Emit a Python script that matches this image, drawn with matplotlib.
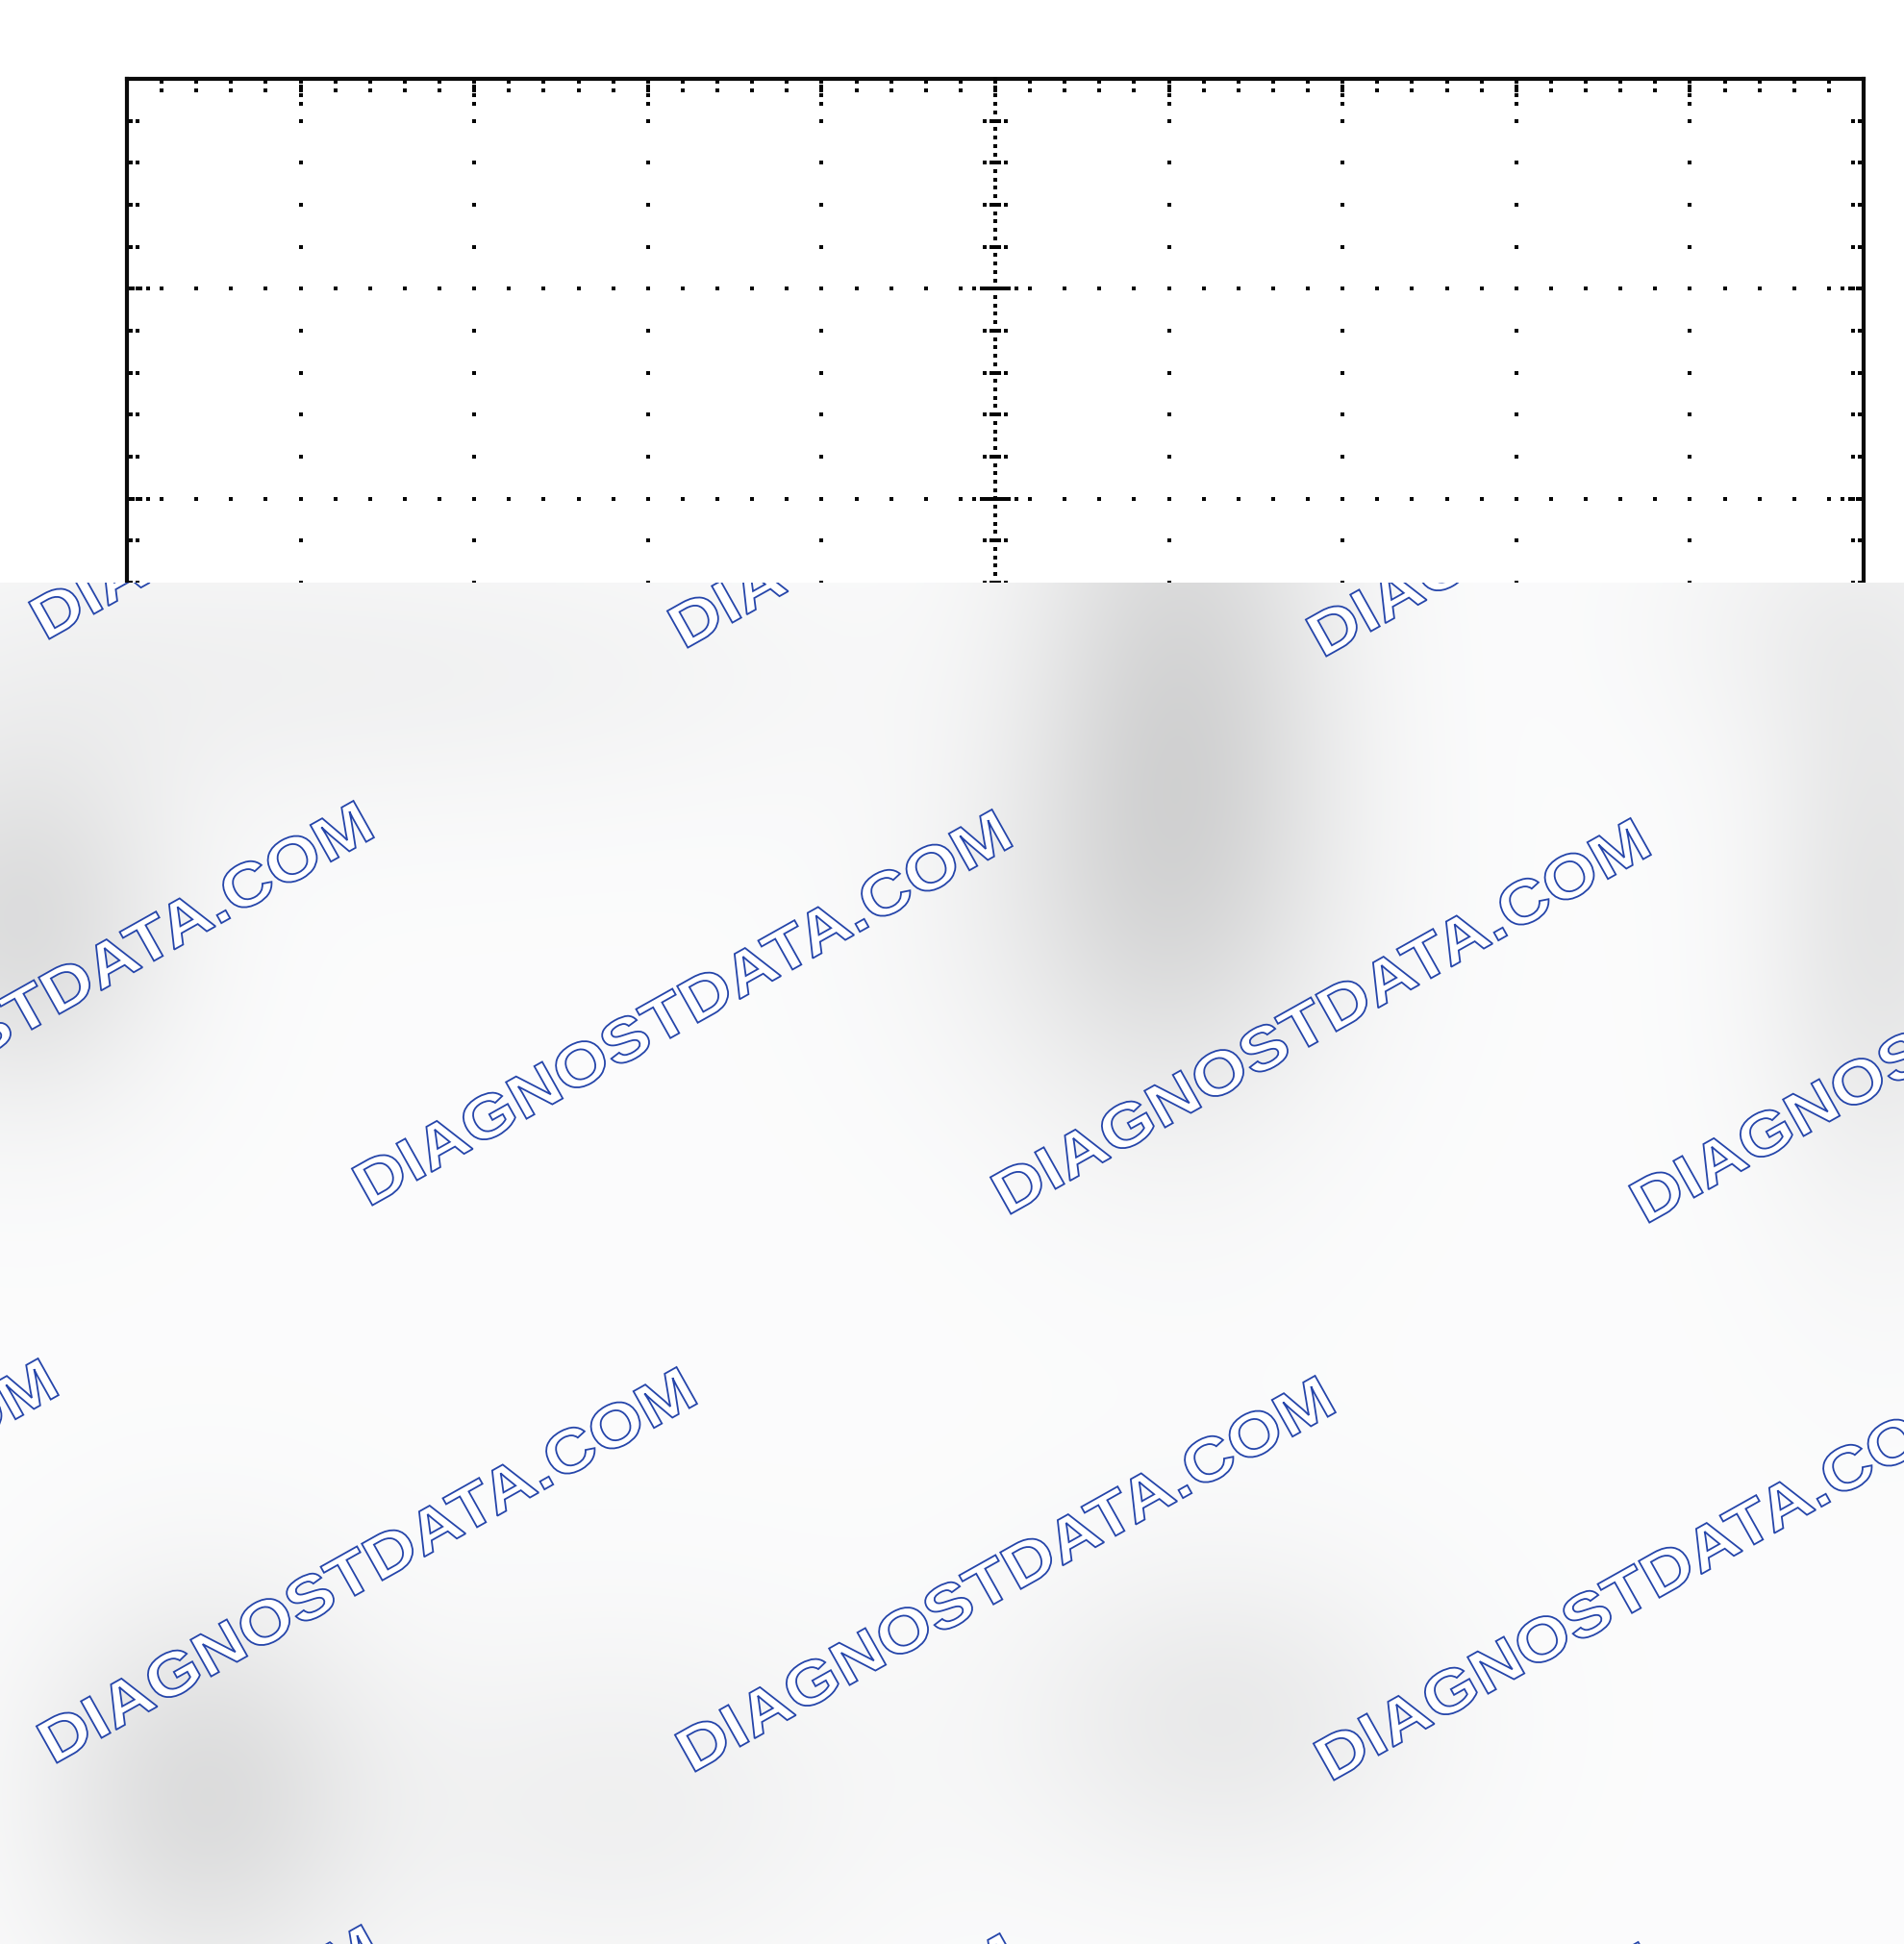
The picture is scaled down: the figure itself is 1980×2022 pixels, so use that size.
import numpy as np
import matplotlib
matplotlib.use("Agg")
import matplotlib.pyplot as plt
from matplotlib.textpath import TextPath
from matplotlib.font_manager import FontProperties
from matplotlib.patches import PathPatch
from matplotlib.transforms import Affine2D

# graticule layout (divisions)
n_xdiv = 10
n_ydiv = 8
n_minor = 5
center_step = 0.04      # dense dots on the centre axes

# watermark
wm_text = "DIAGNOSTDATA.COM"
wm_angle = 29.3
wm_em_x, wm_em_y = 73.5, 63.5   # px per em, text is a bit stretched
wm_origin = (383, 1256)     # pen start of one copy, pixel coords
wm_step_i = (664, 9)        # next copy along a row
wm_step_j = (-328, 580)     # next row

# grey blobs behind the watermark: (x, y, sx, sy, depth), pixels
blob_x = [1230, 1170, 20, 150, 1960, 1900, 210, 1270, 640, 600]
blob_y = [740, 960, 960, 700, 950, 650, 1870, 1790, 1880, 700]
blob_sx = [115, 150, 110, 260, 90, 130, 120, 150, 190, 240]
blob_sy = [240, 140, 130, 110, 210, 100, 140, 120, 130, 100]
blob_d = [0.15, 0.05, 0.12, 0.035, 0.09, 0.035, 0.12, 0.07, 0.045, 0.025]

W, H = 1980, 2022
fig = plt.figure(figsize=(W / 100, H / 100), dpi=100)
fig.patch.set_facecolor("white")

# --- graticule box
left, right, top, bottom = 132, 1938, 82, 1828
ax = fig.add_axes([left / W, 1 - bottom / H, (right - left) / W, (bottom - top) / H])
ax.set_xlim(0, n_xdiv)
ax.set_ylim(-n_ydiv / 2, n_ydiv / 2)
ax.set_xticks([])
ax.set_yticks([])
for s in ax.spines.values():
    s.set_linewidth(3.0)
    s.set_color("#0a0a0a")

xc = n_xdiv / 2
yt = n_ydiv / 2
minor_x = np.arange(0, n_xdiv * n_minor + 1) / n_minor
minor_y = np.arange(0, n_ydiv * n_minor + 1) / n_minor - yt
px_x = n_xdiv / (right - left)      # divisions per pixel
px_y = n_ydiv / (bottom - top)

pts = []
# vertical major lines
for x in range(1, n_xdiv):
    if x == xc:
        continue
    for y in minor_y[1:-1]:
        pts.append((x, y))
    for off in (8, 17, 26):
        pts.append((x, yt - off * px_y))
        pts.append((x, -yt + off * px_y))
# horizontal major lines
for y in range(-int(yt) + 1, int(yt)):
    if y == 0:
        continue
    for x in minor_x[1:-1]:
        pts.append((x, y))
    for off in (6, 14, 22):
        pts.append((off * px_x, y))
        pts.append((n_xdiv - off * px_x, y))
    for x in np.arange(-3, 4) * center_step:
        pts.append((xc + x, y))
# edge ticks
for x in minor_x[1:-1]:
    for off in (3, 12):
        pts.append((x, yt - off * px_y))
        pts.append((x, -yt + off * px_y))
for y in minor_y[1:-1]:
    for off in (4, 11):
        pts.append((off * px_x, y))
        pts.append((n_xdiv - off * px_x, y))
# centre vertical axis
for y in np.arange(-yt, yt + 1e-9, center_step):
    pts.append((xc, y))
for y in minor_y[1:-1]:
    for off in (-11, -4, 4, 11):
        pts.append((xc + off * px_x, y))
# centre horizontal axis
for x in np.arange(0, n_xdiv + 1e-9, center_step * 180 / 218):
    pts.append((x, 0))
for x in minor_x[1:-1]:
    for off in (-11, -4, 4, 11):
        pts.append((x, off * px_y))

pts = np.array(pts)
ax.scatter(pts[:, 0], pts[:, 1], s=6.5, marker="s", color="#050505",
           linewidths=0, clip_on=False, zorder=3)

# --- watermark overlay
ov_top = 606
ov = fig.add_axes([0, 0, 1, (H - ov_top) / H], zorder=10)
ov.set_xlim(0, W)
ov.set_ylim(H, ov_top)
ov.axis("off")

gx = np.linspace(0, W, 496)
gy = np.linspace(ov_top, H, 356)
GX, GY = np.meshgrid(gx, gy)
field = np.full(GX.shape, 0.988)
for bx, by, sx, sy, d in zip(blob_x, blob_y, blob_sx, blob_sy, blob_d):
    field -= d * np.exp(-((GX - bx) ** 2 / (2 * sx ** 2) + (GY - by) ** 2 / (2 * sy ** 2)))
rgb = np.dstack([field - 0.002, field - 0.001, field + 0.001]).clip(0, 1)
ov.imshow(rgb, extent=(0, W, H, ov_top), aspect="auto", interpolation="bilinear")

fp = FontProperties(family=["Liberation Sans", "DejaVu Sans"], weight="bold")
tp = TextPath((0, 0), wm_text, size=1, prop=fp)
for j in range(-2, 3):
    for i in range(-2, 4):
        x0 = wm_origin[0] + wm_step_i[0] * i + wm_step_j[0] * j
        y0 = wm_origin[1] + wm_step_i[1] * i + wm_step_j[1] * j
        tr = (Affine2D().scale(wm_em_x, wm_em_y).rotate_deg(wm_angle)
              .scale(1, -1).translate(x0, y0))
        ov.add_patch(PathPatch(tr.transform_path(tp), facecolor="white",
                               edgecolor="#2545aa", linewidth=1.3, zorder=3))

fig.savefig("out.png", dpi=100)
